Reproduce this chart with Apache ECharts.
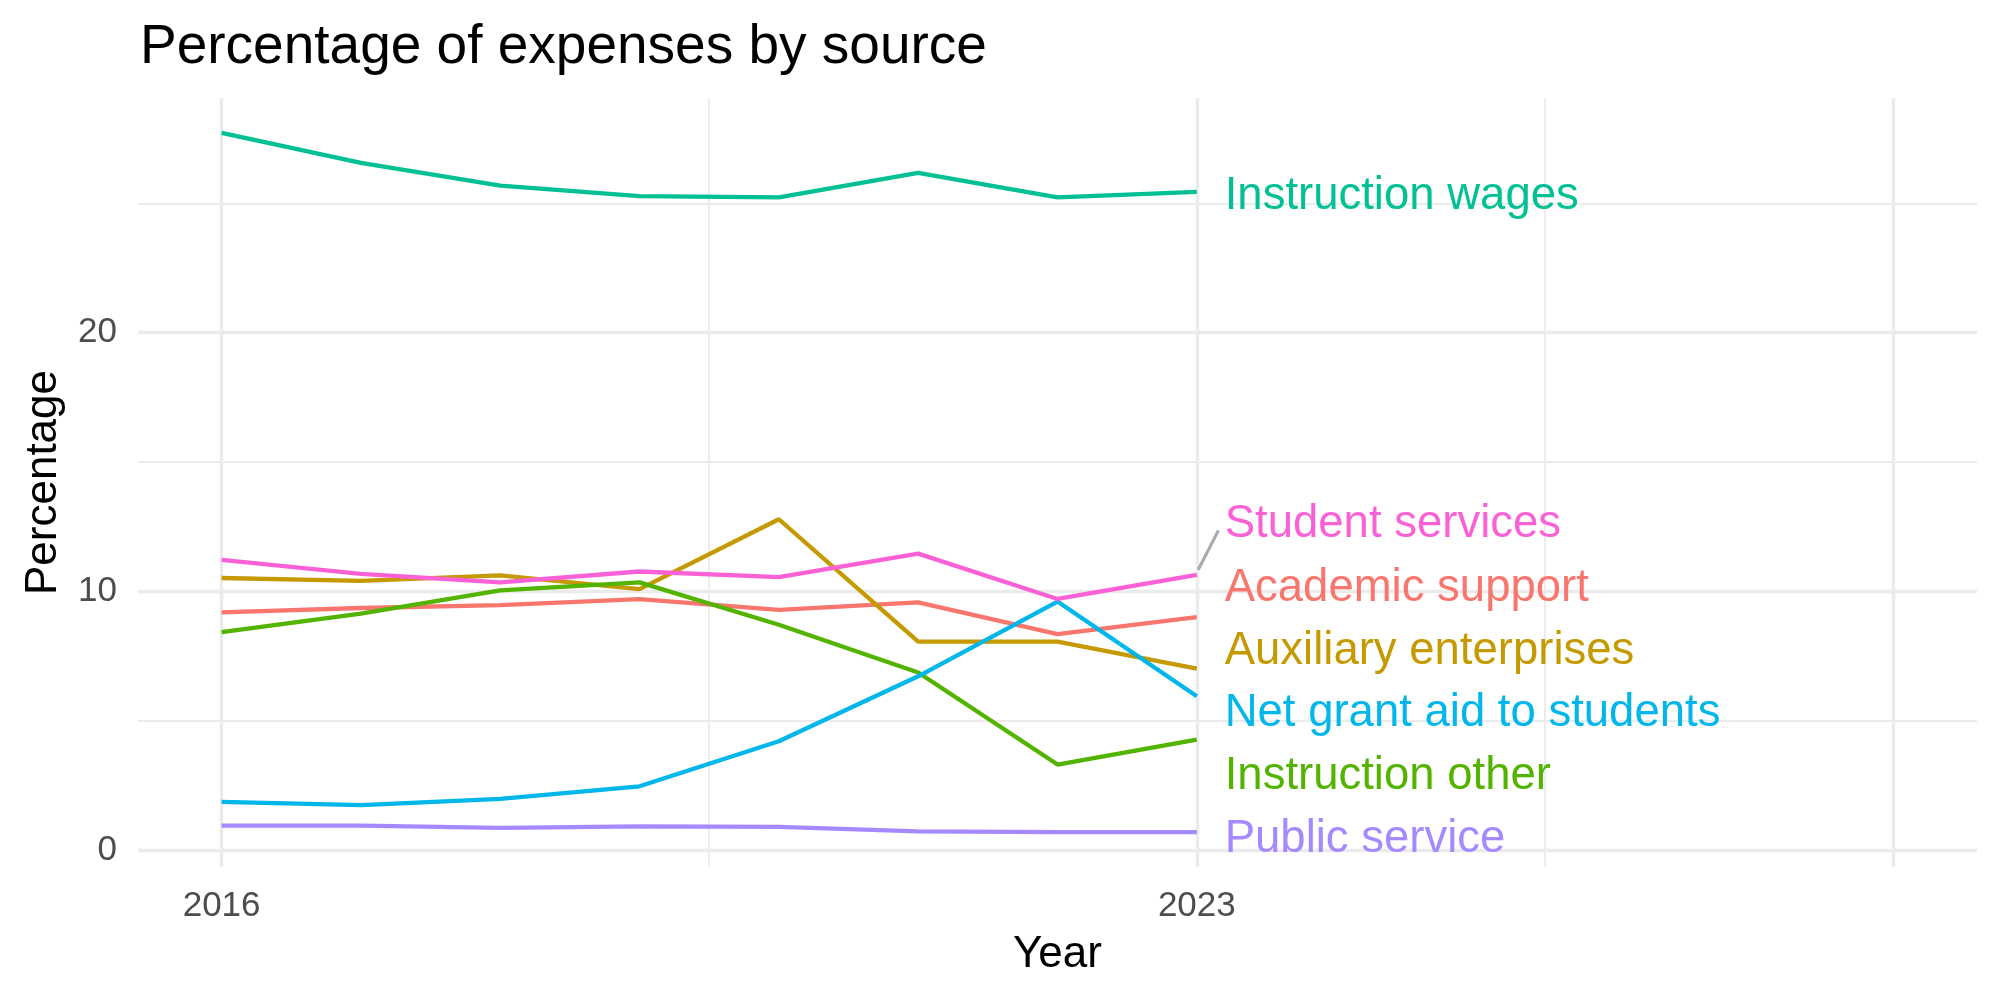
<!DOCTYPE html>
<html>
<head>
    <meta charset="utf-8">
    <title>Percentage of expenses by source</title>
    <style>
        body { margin: 0; }
        #container {
            width: 2000px;
            height: 1000px;
        }
    </style>
</head>
<body>
<div id="container"></div>
</body>
<script src="https://cdn.jsdelivr.net/npm/echarts@6.0.0/dist/echarts.min.js"></script>
<script type="text/javascript">
    var years = [2016, 2017, 2018, 2019, 2020, 2021, 2022, 2023];

    var academicSupport      = [9.19, 9.36, 9.47, 9.70, 9.29, 9.58, 8.35, 9.01];
    var auxiliaryEnterprises = [10.52, 10.41, 10.62, 10.09, 12.79, 8.06, 8.06, 7.02];
    var instructionOther     = [8.43, 9.14, 10.04, 10.35, 8.71, 6.87, 3.31, 4.27];
    var instructionWages     = [27.72, 26.56, 25.68, 25.28, 25.23, 26.18, 25.23, 25.44];
    var netGrantAid          = [1.87, 1.74, 1.98, 2.47, 4.21, 6.72, 9.61, 5.95];
    var publicService        = [0.95, 0.95, 0.86, 0.92, 0.90, 0.73, 0.70, 0.70];
    var studentServices      = [11.22, 10.68, 10.35, 10.77, 10.55, 11.46, 9.71, 10.64];

    var names = ['Academic support', 'Auxiliary enterprises', 'Instruction other',
        'Instruction wages', 'Net grant aid to students', 'Public service', 'Student services'];
    var values = [academicSupport, auxiliaryEnterprises, instructionOther,
        instructionWages, netGrantAid, publicService, studentServices];
    var colors = ['#F8766D', '#C49A00', '#53B400', '#00C094', '#00B6EB', '#A58AFF', '#FB61D7'];

    // where the repelled labels ended up (y, in percent)
    var labelY = [10.28, 7.83, 3.0, 25.42, 5.43, 0.56, 12.73];

    var xTicks = [2016, 2023];
    var yTicks = [0, 10, 20];
    var xMajor = [2016, 2023, 2028];
    var xMinor = [2019.5, 2025.5];
    var yMajor = [0, 10, 20];
    var yMinor = [5, 15, 25];

    var gridColor = '#EBEBEB';
    var font = '"Liberation Sans", Arial, sans-serif';

    var myChart = echarts.init(document.getElementById('container'));

    var gridLines = [];
    xMajor.forEach(function (v) { gridLines.push({xAxis: v, lineStyle: {width: 3.4}}); });
    xMinor.forEach(function (v) { gridLines.push({xAxis: v, lineStyle: {width: 1.8}}); });
    yMajor.forEach(function (v) { gridLines.push({yAxis: v, lineStyle: {width: 3.4}}); });
    yMinor.forEach(function (v) { gridLines.push({yAxis: v, lineStyle: {width: 1.8}}); });

    // grid lines drawn as markLines so they can sit at ggplot's breaks
    var series = [{
        type: 'line',
        data: [],
        silent: true,
        z: 0,
        markLine: {
            z: 0,
            silent: true,
            symbol: 'none',
            animation: false,
            label: {show: false},
            lineStyle: {color: gridColor, type: 'solid'},
            data: gridLines
        }
    }];

    names.forEach(function (name, i) {
        series.push({
            name: name,
            type: 'line',
            data: years.map(function (y, j) { return [y, values[i][j]]; }),
            showSymbol: false,
            symbol: 'none',
            z: 10,
            lineStyle: {color: colors[i], width: 4.3},
            itemStyle: {color: colors[i]}
        });
    });

    // repel segment for the student services label
    var lastX = years[years.length - 1];
    var lastStudent = studentServices[studentServices.length - 1];
    series.push({
        type: 'line',
        data: [[lastX + 0.01, lastStudent + 0.2], [lastX + 0.155, labelY[6] - 0.37]],
        showSymbol: false,
        symbol: 'none',
        z: 9,
        lineStyle: {color: '#ABABAB', width: 3.2}
    });

    series.push({
        type: 'scatter',
        symbolSize: 0,
        z: 12,
        itemStyle: {opacity: 1},   // scatter defaults to 0.8, which fades the labels
        data: names.map(function (name, i) {
            return {
                name: name,
                value: [lastX + 0.2, labelY[i]],
                label: {color: colors[i]}
            };
        }),
        label: {
            show: true,
            position: 'right',
            distance: 0,
            offset: [0, 4],
            formatter: '{b}',
            fontFamily: font,
            fontSize: 45.5,
            textBorderWidth: 0,
            verticalAlign: 'middle'
        }
    });

    var option = {
        backgroundColor: '#ffffff',
        animation: false,
        title: {
            text: 'Percentage of expenses by source',
            left: 140,
            top: 20,
            padding: 0,
            textStyle: {
                fontFamily: font,
                fontSize: 55,
                fontWeight: 'normal',
                color: '#000000'
            }
        },
        grid: {
            left: 138,
            right: 23,
            top: 98,
            bottom: 133,
            containLabel: false
        },
        xAxis: {
            type: 'value',
            min: 2015.4,
            max: 2028.6,
            name: 'Year',
            nameLocation: 'middle',
            nameGap: 66,
            nameTextStyle: {fontFamily: font, fontSize: 44, color: '#000000'},
            axisLine: {show: false},
            axisTick: {show: false, customValues: xTicks},
            splitLine: {show: false},
            axisLabel: {
                customValues: xTicks,
                formatter: function (v) { return String(v); },
                margin: 22,
                fontFamily: font,
                fontSize: 35,
                color: '#4D4D4D'
            }
        },
        yAxis: {
            type: 'value',
            min: -0.65,
            max: 29.07,
            name: 'Percentage',
            nameLocation: 'middle',
            nameGap: 72,
            nameTextStyle: {fontFamily: font, fontSize: 44, color: '#000000'},
            axisLine: {show: false},
            axisTick: {show: false, customValues: yTicks},
            splitLine: {show: false},
            axisLabel: {
                customValues: yTicks,
                margin: 21,
                padding: [14, 0, 0, 0],
                fontFamily: font,
                fontSize: 35,
                color: '#4D4D4D'
            }
        },
        series: series
    };

    if (option && typeof option === "object") {
        myChart.setOption(option, true);
    }
</script>
</html>
